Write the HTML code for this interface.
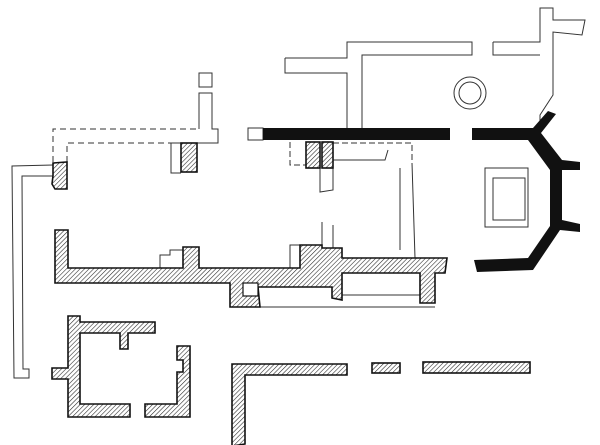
<!DOCTYPE html>
<html><head><style>html,body{margin:0;padding:0;background:#fff}svg{display:block}</style></head>
<body>
<svg width="600" height="445" viewBox="0 0 600 445" xmlns="http://www.w3.org/2000/svg">
<defs>
<pattern id="h" width="3.2" height="3.2" patternUnits="userSpaceOnUse" patternTransform="rotate(45)">
<rect width="3.2" height="3.2" fill="#fff"/><line x1="0" y1="0" x2="0" y2="3.2" stroke="#222" stroke-width="1.1"/>
</pattern>
</defs>
<g fill="none" stroke="#333" stroke-width="1">
<path d="M53,165 L12,166 L14,378 L29,378 L29,369 L23,369 L22,176 L53,176"/>
<path d="M53,162 L53,129 L199,129" stroke-dasharray="6,4"/>
<path d="M67,162 L67,143 L181,143" stroke-dasharray="6,4"/>
<path d="M199,129 L199,93 L212,93 L212,129 L218,129 L218,143 L197,143"/>
<rect x="199" y="73" width="13" height="14"/>
<path d="M181,143 L171,143 L171,173 L181,173"/>
<path d="M285,58 L347,58 L347,42 L472,42 L472,55 L362,55 L362,128"/>
<path d="M285,58 L285,73 L347,73 L347,128"/>
<path d="M493,42 L540,42 L540,8 L553,8 L553,20 L585,20 L582,35 L553,32 L553,95 L540,115 L540,128"/>
<path d="M493,42 L493,55 L540,55"/>
<circle cx="470" cy="93" r="16"/><circle cx="470" cy="93" r="11"/>
<rect x="248" y="128" width="15" height="12"/>
<path d="M290,142 L290,165 L306,165" stroke-dasharray="6,3"/>
<path d="M333,143 L412,143 L412,163" stroke-dasharray="6,3"/>
<path d="M320,168 L320,192 L333,190 L333,168"/>
<path d="M322,222 L322,248 M333,225 L333,248"/>
<path d="M400,168 L400,250 M412,163 L415,258"/>
<path d="M333,160 L385,160 L388,150"/>
<rect x="485" y="168" width="43" height="59"/>
<rect x="493" y="178" width="32" height="42"/>
<path d="M160,268 L160,255 L170,255 L170,250 L183,250"/>
<path d="M290,268 L290,245 L300,245"/>
<path d="M342,248 L342,258"/>
<path d="M258,283 L258,275 L332,275 L332,287 L342,287"/>
<path d="M342,295 L420,295"/>
<path d="M260,307 L435,307"/>
</g>
<g fill="#111">
<rect x="263" y="128" width="187" height="12"/>
<polygon points="472,128 533,128 548,111 556,114 541,133 562,160 580,162 580,170 562,170 562,220 580,224 580,232 560,230 533,270 477,272 474,260 528,258 550,226 550,170 528,140 472,140"/>
</g>
<g fill="url(#h)" stroke="#111" stroke-width="1.6">
<rect x="181" y="143" width="16" height="29"/>
<rect x="306" y="142" width="14" height="26"/>
<rect x="322" y="142" width="11" height="26"/>
<path d="M53,163 L67,162 L67,189 L55,189 L52,184 L53,176Z"/>
<path d="M55,230 L68,230 L68,268 L183,268 L183,247 L199,247 L199,268 L300,268 L300,245 L322,245 L322,248 L342,248 L342,258 L447,258 L445,273 L435,273 L435,303 L420,303 L420,273 L342,273 L342,300 L332,298 L332,287 L258,287 L260,307 L230,307 L230,283 L55,283Z"/>
<path d="M68,316 L80,316 L80,322 L155,322 L155,333 L128,333 L128,349 L120,349 L120,333 L80,333 L80,404 L130,404 L130,417 L68,417 L68,379 L52,379 L52,368 L68,368Z"/>
<path d="M177,346 L190,346 L190,417 L145,417 L145,404 L177,404 L177,372 L183,372 L183,360 L177,360Z"/>
<path d="M232,364 L347,364 L347,375 L245,375 L245,444 L232,446Z"/>
<rect x="372" y="363" width="28" height="10"/>
<rect x="423" y="362" width="107" height="11"/>
</g>
<rect x="243" y="283" width="15" height="13" fill="#fff" stroke="#111" stroke-width="1.2"/>
</svg>
</body></html>
